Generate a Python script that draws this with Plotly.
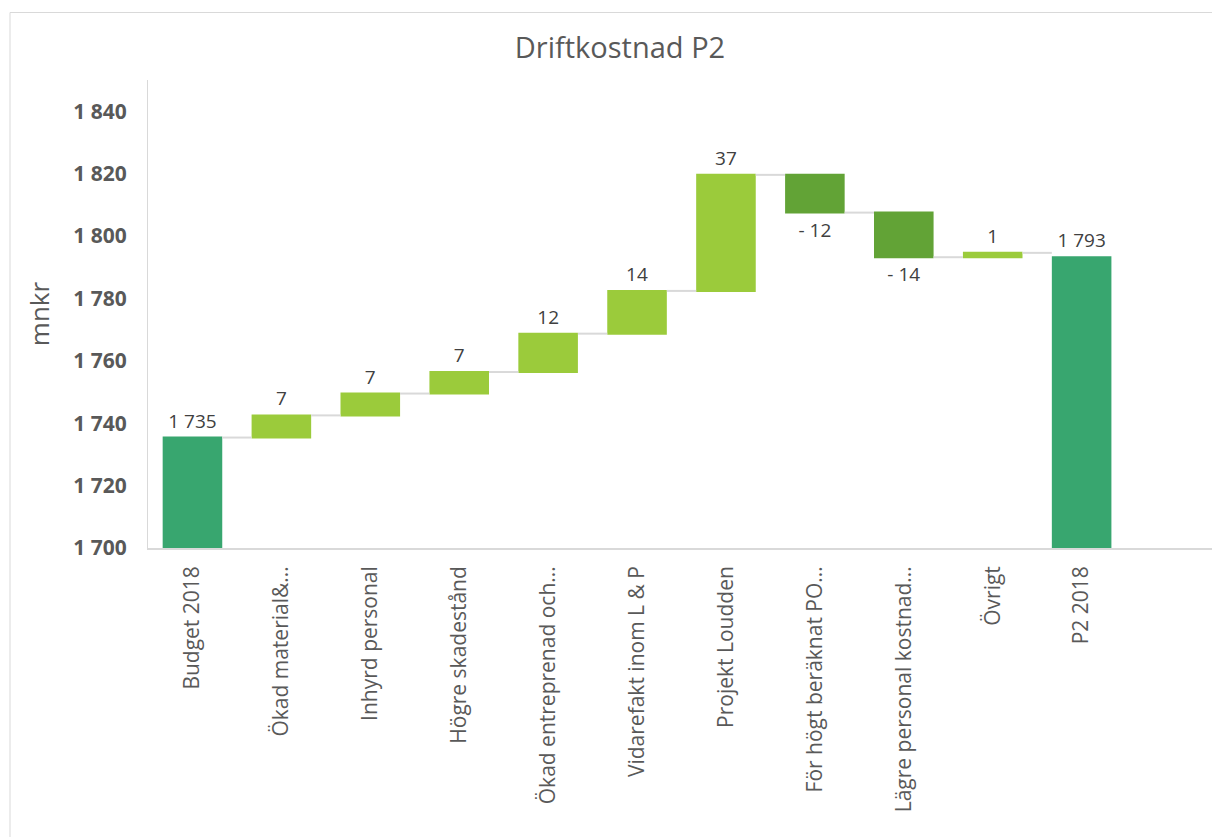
import plotly.graph_objects as go

categories = ["Budget 2018", "Ökad material&...", "Inhyrd personal", "Högre skadestånd",
              "Ökad entreprenad och...", "Vidarefakt inom L & P", "Projekt Loudden",
              "För högt beräknat PO...", "Lägre personal kostnad...", "Övrigt", "P2 2018"]
values = [1735.4, 7.1, 7.0, 6.9, 12.3, 13.7, 37.2, -12.1, -14.3, 1.4, 1793.2]
measures = ["absolute", "relative", "relative", "relative", "relative", "relative",
            "relative", "relative", "relative", "relative", "absolute"]
ytick_vals = [1700, 1720, 1740, 1760, 1780, 1800, 1820, 1840]


def fmt(v, m):
    n = int(round(abs(v)))
    s = f"{n:,}".replace(",", " ")
    if m == "relative" and v < 0:
        return "- " + s
    return s


texts = [fmt(v, m) for v, m in zip(values, measures)]

W, H = 1212, 829  # page body has an 8px margin
L, T, PW, PH = 140, 72, 1067, 468

fig = go.Figure(go.Waterfall(
    x=categories, y=values, measure=measures,
    text=texts, textposition="outside",
    textfont=dict(family="Open Sans", size=19, color="#404040"),
    cliponaxis=False,
    width=0.67,
    increasing=dict(marker=dict(color="#9BCB3B")),
    decreasing=dict(marker=dict(color="#62A336")),
    totals=dict(marker=dict(color="#38A66F")),
    connector=dict(line=dict(color="#D9D9D9", width=2)),
))

fig.update_layout(
    width=W, height=H,
    paper_bgcolor="white", plot_bgcolor="white",
    margin=dict(l=L, r=W - L - PW, t=T, b=H - T - PH),
    title=dict(text="Driftkostnad P2", x=(620 - 8) / W, xanchor="center",
               y=1 - 40 / H, yanchor="middle",
               font=dict(family="Open Sans", size=29, color="#595959")),
    showlegend=False,
    font=dict(family="Open Sans", color="#595959"),
    xaxis=dict(
        type="category", range=[-0.5, 11.5], tickangle=-90,
        tickfont=dict(size=21, color="#595959"),
        showline=True, linecolor="#D9D9D9", linewidth=1.5,
        showgrid=False, ticks="", ticklabelstandoff=8,
    ),
    yaxis=dict(
        range=[1700, 1850], tickvals=ytick_vals,
        ticktext=[f"{v:,}".replace(",", " ") for v in ytick_vals],
        tickfont=dict(size=21, color="#595959", weight="bold"),
        showline=True, linecolor="#D9D9D9", linewidth=1,
        showgrid=False, zeroline=False, ticks="", ticklabelstandoff=16,
        title=dict(text="mnkr", font=dict(size=26, color="#595959"), standoff=16),
    ),
    shapes=[dict(type="rect", xref="paper", yref="paper",
                 x0=(2 - L) / PW, x1=(W + 10 - L) / PW,
                 y0=-1.0, y1=(T + PH - 4.5) / PH,
                 line=dict(color="#D9D9D9", width=1), fillcolor="rgba(0,0,0,0)",
                 layer="below")],
)

fig.write_html("out.html")
